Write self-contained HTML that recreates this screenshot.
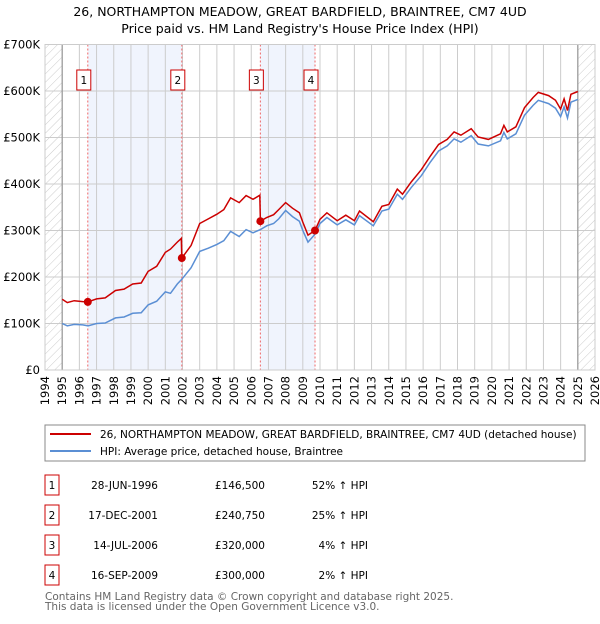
<!DOCTYPE html>
<html><head><meta charset="utf-8"><style>
body{margin:0;background:#fff;font-family:"DejaVu Sans","Liberation Sans",sans-serif;}
svg text{font-family:"DejaVu Sans","Liberation Sans",sans-serif;}
</style></head><body>
<svg id="c" width="600" height="620" xmlns="http://www.w3.org/2000/svg">
<defs><pattern id="h" width="6" height="6" patternUnits="userSpaceOnUse" patternTransform="rotate(45)"><line x1="0" y1="0" x2="0" y2="6" stroke="#ccc" stroke-width="1"/></pattern></defs>
<text x="300" y="16" text-anchor="middle" font-size="12.5">26, NORTHAMPTON MEADOW, GREAT BARDFIELD, BRAINTREE, CM7 4UD</text>
<text x="300" y="33" text-anchor="middle" font-size="12.5">Price paid vs. HM Land Registry's House Price Index (HPI)</text>
<g id="plot"></g>
<rect x="45" y="425" width="540" height="36" fill="none" stroke="#888"/>
<line x1="50" y1="434" x2="91" y2="434" stroke="#cc0000" stroke-width="2"/>
<text x="100" y="438" font-size="10.5">26, NORTHAMPTON MEADOW, GREAT BARDFIELD, BRAINTREE, CM7 4UD (detached house)</text>
<line x1="50" y1="451" x2="91" y2="451" stroke="#5b8fd4" stroke-width="2"/>
<text x="100" y="455" font-size="10.5">HPI: Average price, detached house, Braintree</text>
<g id="tbl" font-size="10.5"></g>
<text x="45" y="600" font-size="10.5" fill="#666">Contains HM Land Registry data © Crown copyright and database right 2025.</text>
<text x="45" y="610" font-size="10.5" fill="#666">This data is licensed under the Open Government Licence v3.0.</text>
</svg>
<script>
const hpiDates=[1995.0,1995.3,1995.7,1996.2,1996.5,1997.0,1997.5,1998.1,1998.6,1999.1,1999.6,2000.0,2000.5,2001.0,2001.3,2001.7,2001.96,2002.5,2003.0,2003.5,2004.0,2004.4,2004.8,2005.3,2005.7,2006.1,2006.53,2006.9,2007.3,2007.6,2008.0,2008.4,2008.8,2009.0,2009.3,2009.71,2010.0,2010.4,2011.0,2011.5,2012.0,2012.3,2013.1,2013.6,2014.0,2014.5,2014.8,2015.3,2015.9,2016.4,2016.9,2017.4,2017.8,2018.2,2018.8,2019.2,2019.8,2020.5,2020.7,2020.9,2021.4,2021.9,2022.4,2022.7,2023.3,2023.7,2024.0,2024.2,2024.4,2024.6,2025.0];
const hpiValues=[100,95,98,97,95,100,101,112,114,122,123,140,148,168,165,185,195,220,255,262,270,278,298,287,302,295,302,310,315,325,343,330,320,300,275,292,315,328,312,323,312,332,310,342,346,378,367,392,418,446,471,482,497,490,504,486,482,493,511,497,508,548,569,580,573,563,545,566,542,576,582];
const priceDates=[1995.0,1995.3,1995.7,1996.2,1996.49,1997.0,1997.5,1998.1,1998.6,1999.1,1999.6,2000.0,2000.5,2001.0,2001.3,2001.7,2001.93,2001.96,2002.5,2003.0,2003.5,2004.0,2004.4,2004.8,2005.3,2005.7,2006.1,2006.5,2006.53,2006.9,2007.3,2007.6,2008.0,2008.4,2008.8,2009.0,2009.3,2009.71,2010.0,2010.4,2011.0,2011.5,2012.0,2012.3,2013.1,2013.6,2014.0,2014.5,2014.8,2015.3,2015.9,2016.4,2016.9,2017.4,2017.8,2018.2,2018.8,2019.2,2019.8,2020.5,2020.7,2020.9,2021.4,2021.9,2022.4,2022.7,2023.3,2023.7,2024.0,2024.2,2024.4,2024.6,2025.0];
const priceValues=[152,145,149,147,146.5,153,155,171,174,185,187,212,223,253,260,275,283,240.75,268,315,325,335,345,370,360,375,367,376,320,328,334,345,360,348,338,318,290,300,324,338,321,333,321,342,319,352,356,389,378,404,431,459,485,496,512,505,519,501,496,508,526,512,523,564,586,597,590,580,561,583,558,593,599];
const saleDates=[1996.49,2001.96,2006.53,2009.71];
const saleValues=[146.5,240.75,320,300];
const saleLabels=["1","2","3","4"];
const saleDateText=["28-JUN-1996","17-DEC-2001","14-JUL-2006","16-SEP-2009"];
const salePriceText=["£146,500","£240,750","£320,000","£300,000"];
const salePctText=["52% ↑ HPI","25% ↑ HPI","4% ↑ HPI","2% ↑ HPI"];
const yTicks=[0,100,200,300,400,500,600,700];
const yTickLabels=["£0","£100K","£200K","£300K","£400K","£500K","£600K","£700K"];
const xYears=[1994,1995,1996,1997,1998,1999,2000,2001,2002,2003,2004,2005,2006,2007,2008,2009,2010,2011,2012,2013,2014,2015,2016,2017,2018,2019,2020,2021,2022,2023,2024,2025,2026];

const NS="http://www.w3.org/2000/svg";
const X0=45,X1=595,Y0=370,Y1=44.5;
const xs=y=>X0+(y-1994)/32*(X1-X0);
const ys=v=>Y0-v/700*(Y0-Y1);
const plot=document.getElementById('plot');
function mk(t,a,p){const e=document.createElementNS(NS,t);for(const k in a)e.setAttribute(k,a[k]);(p||plot).appendChild(e);return e;}

let r;
r=mk('rect',{x:X0,y:Y1,width:X1-X0,height:Y0-Y1,fill:'#fff'});


for(let i=0;i<2;i++){
 r=mk('rect',{x:xs(saleDates[i*2]),y:Y1,width:xs(saleDates[i*2+1])-xs(saleDates[i*2]),height:Y0-Y1,fill:'#f0f4fd'});
 
 
}
r=mk('rect',{x:xs(1994),y:Y1,width:xs(1995)-xs(1994),height:Y0-Y1,fill:'url(#h)'});


r=mk('rect',{x:xs(2025),y:Y1,width:xs(2026)-xs(2025),height:Y0-Y1,fill:'url(#h)'});


xYears.forEach(y=>{
 const l=mk('line',{x1:xs(y),x2:xs(y),y1:Y1,y2:Y0,stroke:'#ccc','stroke-width':1});
 
 
 const t=mk('text',{x:0,y:0,'font-size':11.5,transform:`translate(${xs(y)+4},${Y0+6}) rotate(-90)`,'text-anchor':'end'});
 t.textContent=y;
 
 
});
yTicks.forEach((v,i)=>{
 const l=mk('line',{x1:X0,x2:X1,y1:ys(v),y2:ys(v),stroke:'#ccc','stroke-width':1});
 
 
 const t=mk('text',{x:40,y:ys(v)+4,'font-size':11.5,'text-anchor':'end'});
 t.textContent=yTickLabels[i];
 
 
});
[1995,2025].forEach(y=>{
 const l=mk('line',{x1:xs(y),x2:xs(y),y1:Y1,y2:Y0,stroke:'#999','stroke-width':1.2});
 
 
});
saleDates.forEach((d,i)=>{
 const l=mk('line',{x1:xs(d),x2:xs(d),y1:Y1,y2:Y0,stroke:'#e66','stroke-width':1,'stroke-dasharray':'2,2'});
 
 
});
let pts=hpiDates.map((d,i)=>xs(d).toFixed(1)+','+ys(hpiValues[i]).toFixed(1)).join(' ');
r=mk('polyline',{points:pts,fill:'none',stroke:'#5b8fd4','stroke-width':1.5});


pts=priceDates.map((d,i)=>xs(d).toFixed(1)+','+ys(priceValues[i]).toFixed(1)).join(' ');
r=mk('polyline',{points:pts,fill:'none',stroke:'#cc0000','stroke-width':1.5});


saleDates.forEach((d,i)=>{
 const c=mk('circle',{cx:xs(d),cy:ys(saleValues[i]),r:4,fill:'#cc0000'});
 
 
 const b=mk('rect',{x:xs(d)-11,y:70,width:14,height:20,fill:'#fff',stroke:'#cc0000'});
 
 
 const t=mk('text',{x:xs(d)-4,y:84,'font-size':10.5,'text-anchor':'middle'});
 t.textContent=saleLabels[i];
 
 
});
r=mk('rect',{x:X0,y:Y1,width:X1-X0,height:Y0-Y1,fill:'none',stroke:'#ccc'});



const tbl=document.getElementById('tbl');
saleLabels.forEach((s,i)=>{
 const y=485+i*30;
 const b=mk('rect',{x:45,y:y-10,width:14,height:20,fill:'none',stroke:'#cc0000'},tbl);
 
 
 let t=mk('text',{x:52,y:y+4,'text-anchor':'middle'},tbl);t.textContent=s;
 
 
 t=mk('text',{x:158,y:y+4,'text-anchor':'end'},tbl);t.textContent=saleDateText[i];
 
 
 t=mk('text',{x:265,y:y+4,'text-anchor':'end'},tbl);t.textContent=salePriceText[i];
 
 
 t=mk('text',{x:368,y:y+4,'text-anchor':'end'},tbl);t.textContent=salePctText[i];
 
 
});
</script>
</body></html>
